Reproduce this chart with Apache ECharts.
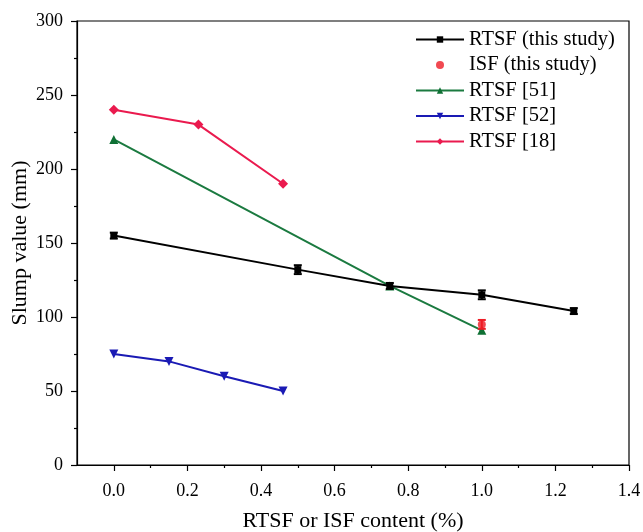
<!DOCTYPE html>
<html>
<head>
<meta charset="utf-8">
<script src="https://cdn.jsdelivr.net/npm/echarts@6/dist/echarts.min.js"></script>
<style>
  html, body { margin: 0; padding: 0; background: #fff; }
  #chart { width: 643px; height: 532px; }
</style>
</head>
<body>
<div id="chart"></div>
<script>
// Fibre content (%) and slump (mm) per data set
const rtsfThisX = [0, 0.5, 0.75, 1.0, 1.25];
const rtsfThisY = [155, 132, 121, 115, 104];
const rtsfThisErr = [2, 3, 2, 3, 2];

const isfThisX = [1.0];
const isfThisY = [95];
const isfThisErr = [3];

const rtsf51X = [0, 0.75, 1.0];
const rtsf51Y = [220, 121, 91];

const rtsf52X = [0, 0.15, 0.3, 0.46];
const rtsf52Y = [75, 70, 60, 50];

const rtsf18X = [0, 0.23, 0.46];
const rtsf18Y = [240, 230, 190];

const xMajorTicks = [0, 0.2, 0.4, 0.6, 0.8, 1.0, 1.2, 1.4];
const xMinorTicks = [0.1, 0.3, 0.5, 0.7, 0.9, 1.1, 1.3];

const seriesNames = ['RTSF (this study)', 'ISF (this study)', 'RTSF [51]', 'RTSF [52]', 'RTSF [18]'];

const pair = (xs, ys) => xs.map((x, i) => [x, ys[i]]);
const triple = (xs, ys, es) => xs.map((x, i) => [x, ys[i], es[i]]);

const FONT = '"Liberation Serif", "Times New Roman", serif';

// I-beam error bar around each point
function errorBar(color) {
  return function (params, api) {
    const x = api.value(0), y = api.value(1), e = api.value(2);
    const lo = api.coord([x, y - e]);
    const hi = api.coord([x, y + e]);
    const cap = 4;
    const style = { stroke: color, lineWidth: 2 };
    return {
      type: 'group',
      children: [
        { type: 'line', shape: { x1: lo[0], y1: lo[1], x2: hi[0], y2: hi[1] }, style },
        { type: 'line', shape: { x1: lo[0] - cap, y1: lo[1], x2: lo[0] + cap, y2: lo[1] }, style },
        { type: 'line', shape: { x1: hi[0] - cap, y1: hi[1], x2: hi[0] + cap, y2: hi[1] }, style }
      ]
    };
  };
}

const chart = echarts.init(document.getElementById('chart'), null, { renderer: 'canvas' });

const option = {
  animation: false,
  backgroundColor: '#fff',
  grid: {
    left: 77, right: 14, top: 21, bottom: 67,
    outerBoundsMode: 'none',
    containLabel: false,
    show: true, borderColor: '#000', borderWidth: 1.2, backgroundColor: 'transparent'
  },
  legend: {
    data: seriesNames,
    orient: 'vertical',
    left: 415,
    top: 29,
    padding: 0,
    itemGap: 4.5,
    itemWidth: 48,
    itemHeight: 8,
    textStyle: { fontFamily: FONT, fontSize: 20.5, color: '#000' }
  },
  xAxis: [
    {
      type: 'value',
      min: -0.1,
      max: 1.4,
      name: 'RTSF or ISF content (%)',
      nameLocation: 'middle',
      nameMoveOverlap: false,
      nameGap: 45,
      nameTextStyle: { fontFamily: FONT, fontSize: 22, color: '#000' },
      axisLine: { show: true, onZero: false, lineStyle: { color: '#000', width: 1.2 } },
      axisTick: { show: true, customValues: xMajorTicks, length: 6, lineStyle: { color: '#000', width: 1.2 } },
      axisLabel: {
        customValues: xMajorTicks,
        formatter: v => v.toFixed(1),
        fontFamily: FONT, fontSize: 18, color: '#000', margin: 17
      },
      splitLine: { show: false }
    },
    {
      type: 'value',
      min: -0.1,
      max: 1.4,
      position: 'bottom',
      axisLine: { show: false, onZero: false },
      axisTick: { show: true, customValues: xMinorTicks, length: 3, lineStyle: { color: '#000', width: 1.2 } },
      axisLabel: { show: false },
      splitLine: { show: false }
    }
  ],
  yAxis: {
    type: 'value',
    min: 0,
    max: 300,
    interval: 50,
    name: 'Slump value (mm)',
    nameLocation: 'middle',
    nameMoveOverlap: false,
    nameGap: 46,
    nameTextStyle: { fontFamily: FONT, fontSize: 22, color: '#000' },
    axisLine: { show: true, onZero: false, lineStyle: { color: '#000', width: 1.2 } },
    axisTick: { show: true, length: 6, lineStyle: { color: '#000', width: 1.2 } },
    minorTick: { show: true, splitNumber: 2, length: 3, lineStyle: { color: '#000', width: 1.2 } },
    axisLabel: { fontFamily: FONT, fontSize: 18, color: '#000', margin: 14 },
    splitLine: { show: false }
  },
  series: [
    {
      name: 'RTSF (this study)', type: 'line', data: pair(rtsfThisX, rtsfThisY),
      symbol: 'rect', symbolSize: 7,
      itemStyle: { color: '#000' }, lineStyle: { color: '#000', width: 2 }, z: 3
    },
    {
      name: 'ISF (this study)', type: 'scatter', data: pair(isfThisX, isfThisY),
      symbol: 'circle', symbolSize: 8,
      itemStyle: { color: '#ee1c25' }, z: 5
    },
    {
      name: 'RTSF [51]', type: 'line', data: pair(rtsf51X, rtsf51Y),
      symbol: 'triangle', symbolSize: 9,
      itemStyle: { color: '#0f7034' }, lineStyle: { color: '#1b7a40', width: 2 }, z: 2
    },
    {
      name: 'RTSF [52]', type: 'line', data: pair(rtsf52X, rtsf52Y),
      symbol: 'triangle', symbolRotate: 180, symbolSize: 9,
      itemStyle: { color: '#1a1ab4' }, lineStyle: { color: '#1a1ab4', width: 2 }, z: 2
    },
    {
      name: 'RTSF [18]', type: 'line', data: pair(rtsf18X, rtsf18Y),
      symbol: 'diamond', symbolSize: 10,
      itemStyle: { color: '#ea1a4e' }, lineStyle: { color: '#ea1a4e', width: 2 }, z: 2
    },
    {
      name: 'rtsfErr', type: 'custom', renderItem: errorBar('#000'),
      data: triple(rtsfThisX, rtsfThisY, rtsfThisErr), encode: { x: 0, y: 1 }, z: 4, silent: true
    },
    {
      name: 'isfErr', type: 'custom', renderItem: errorBar('#ee1c25'),
      data: triple(isfThisX, isfThisY, isfThisErr), encode: { x: 0, y: 1 }, z: 6, silent: true
    }
  ]
};

chart.setOption(option);
</script>
</body>
</html>
